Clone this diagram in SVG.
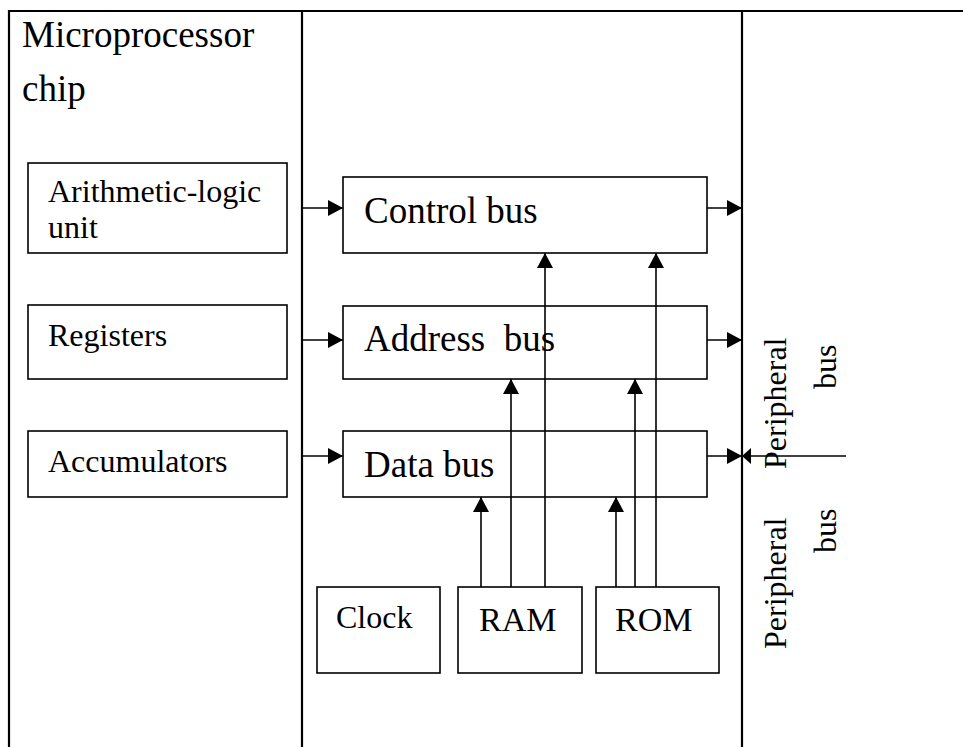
<svg xmlns="http://www.w3.org/2000/svg" width="963" height="747" viewBox="0 0 963 747">
  <style>
    .frame { stroke: #000; stroke-width: 2.2; fill: none; }
    .box { stroke: #000; stroke-width: 1.6; fill: #fff; }
    .conn { stroke: #000; stroke-width: 1.6; fill: none; }
    .t { font-family: "Liberation Serif", "Times New Roman", serif; fill: #000; }
    .s32 { font-size: 32px; }
    .s37 { font-size: 37px; }
    .s34 { font-size: 34px; }
  </style>
  <defs>
    <marker id="arrow" viewBox="0 0 15 16" refX="15" refY="8" markerWidth="15" markerHeight="16" markerUnits="userSpaceOnUse" orient="auto">
      <path d="M0,0 L15,8 L0,16 z" fill="#000"/>
    </marker>
    <marker id="arrowS" viewBox="0 0 9 16" refX="9" refY="8" markerWidth="9" markerHeight="16" markerUnits="userSpaceOnUse" orient="auto">
      <path d="M0,0 L9,8 L0,16 z" fill="#000"/>
    </marker>
  </defs>
  <rect width="963" height="747" fill="#fff"/>

  <g id="frame">
    <line class="frame" x1="8" y1="11" x2="963" y2="11"/>
    <line class="frame" x1="9" y1="10" x2="9" y2="747"/>
    <line class="frame" x1="302" y1="10" x2="302" y2="747"/>
    <line class="frame" x1="742" y1="10" x2="742" y2="747"/>
  </g>

  <g id="title">
    <text class="t s37" x="22" y="47">Microprocessor</text>
    <text class="t s37" x="22" y="101">chip</text>
  </g>

  <g id="alu">
    <rect class="box" x="28" y="163" width="259" height="90"/>
    <text class="t s32" x="48" y="202">Arithmetic-logic</text>
    <text class="t s32" x="48" y="238">unit</text>
  </g>
  <g id="registers">
    <rect class="box" x="28" y="305" width="259" height="74"/>
    <text class="t s32" x="48" y="346">Registers</text>
  </g>
  <g id="accumulators">
    <rect class="box" x="28" y="431" width="259" height="66"/>
    <text class="t s32" x="48" y="472">Accumulators</text>
  </g>

  <g id="control-bus">
    <rect class="box" x="343" y="177" width="364" height="76"/>
    <text class="t s37" x="364" y="223">Control bus</text>
  </g>
  <g id="address-bus">
    <rect class="box" x="343" y="306" width="364" height="73"/>
    <text class="t s37" x="364" y="351" xml:space="preserve" style="white-space:pre">Address  bus</text>
  </g>
  <g id="data-bus">
    <rect class="box" x="343" y="431" width="364" height="66"/>
    <text class="t s37" x="364" y="477">Data bus</text>
  </g>

  <g id="clock">
    <rect class="box" x="317" y="587" width="123" height="86"/>
    <text class="t s32" x="336" y="628">Clock</text>
  </g>
  <g id="ram">
    <rect class="box" x="458" y="587" width="124" height="86"/>
    <text class="t s34" x="479" y="631">RAM</text>
  </g>
  <g id="rom">
    <rect class="box" x="596" y="587" width="123" height="86"/>
    <text class="t s34" x="615" y="631">ROM</text>
  </g>

  <g id="peripheral-bus-1">
    <text class="t s32" transform="translate(786,469) rotate(-90)">Peripheral</text>
    <text class="t s32" transform="translate(836,389) rotate(-90)">bus</text>
  </g>
  <g id="peripheral-bus-2">
    <text class="t s32" transform="translate(786,649) rotate(-90)">Peripheral</text>
    <text class="t s32" transform="translate(836,553) rotate(-90)">bus</text>
  </g>

  <g id="connectors">
    <line class="conn" x1="303" y1="208" x2="343" y2="208" marker-end="url(#arrow)"/>
    <line class="conn" x1="303" y1="340" x2="343" y2="340" marker-end="url(#arrow)"/>
    <line class="conn" x1="303" y1="456" x2="343" y2="456" marker-end="url(#arrow)"/>

    <line class="conn" x1="707" y1="208" x2="742" y2="208" marker-end="url(#arrow)"/>
    <line class="conn" x1="707" y1="340" x2="742" y2="340" marker-end="url(#arrow)"/>
    <line class="conn" x1="707" y1="456" x2="742" y2="456" marker-end="url(#arrow)"/>
    <line class="conn" x1="846" y1="456" x2="742" y2="456" marker-end="url(#arrowS)"/>

    <line class="conn" x1="481" y1="587" x2="481" y2="497" marker-end="url(#arrow)"/>
    <line class="conn" x1="511" y1="587" x2="511" y2="379" marker-end="url(#arrow)"/>
    <line class="conn" x1="545" y1="587" x2="545" y2="253" marker-end="url(#arrow)"/>
    <line class="conn" x1="616" y1="587" x2="616" y2="497" marker-end="url(#arrow)"/>
    <line class="conn" x1="635" y1="587" x2="635" y2="379" marker-end="url(#arrow)"/>
    <line class="conn" x1="656" y1="587" x2="656" y2="253" marker-end="url(#arrow)"/>
  </g>
</svg>
